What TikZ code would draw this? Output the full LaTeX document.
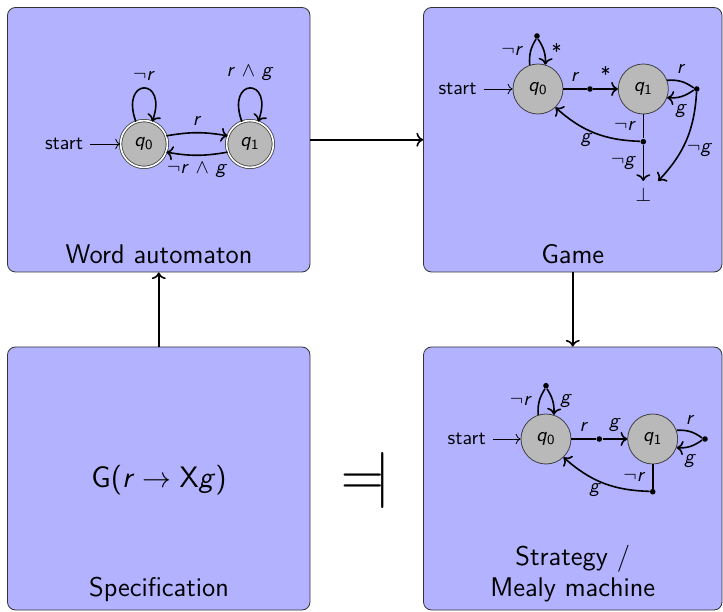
\documentclass[tikz,border=0pt]{standalone}
\usepackage{graphicx}
\usetikzlibrary{arrows.meta}
\renewcommand{\familydefault}{\sfdefault}
\newcommand\vi[1]{\textit{#1}}
\newcommand\qs[1]{\textit{q}\textsubscript{#1}}
\newcommand\nv[1]{$\neg$\textit{#1}}
\tikzset{
  box/.style={draw=black!80, fill=blue!30, rounded corners=4pt, minimum width=151.25pt, minimum height=132.25pt, inner sep=0pt},
  qstate/.style={circle, draw=black!75, fill=gray!55, minimum size=25pt, inner sep=0pt},
  qacc/.style={qstate, double=white, double distance=0.8pt, minimum size=23.4pt},
  bdot/.style={circle, fill=black, inner sep=0pt, minimum size=2.8pt},
  edg/.style={thick, ->},
  pln/.style={thick},
  conn/.style={thick, ->},
  bigloop/.style={loop, out=110, in=70, looseness=7.5},
  ttl/.style={font=\fontsize{13.5}{15.5}\selectfont, anchor=base}
}
\begin{document}
\begin{tikzpicture}[x=0.5pt,y=0.5pt]
\useasboundingbox (0,0) rectangle (723,611);
% boxes
\node[box] (wa) at (158.75,471.25) {};
\node[box, minimum width=149.25pt] (game) at (572.75,471.25) {};
\node[box, minimum height=131.5pt] (spec) at (158.75,132.5) {};
\node[box, minimum width=149.25pt, minimum height=131.5pt] (strat) at (572.75,132.5) {};
% titles
\node[ttl] (tw) at (159,347.7) {Word automaton};
\node[ttl] (tg) at (572.75,347.7) {Game};
\node[ttl] (ts) at (159,14.3) {Specification};
\node[ttl, align=center] (tm) at (572.75,15) {Strategy /\\Mealy machine};
% connectors
\draw[conn] (wa.east) -- (game.west);
\draw[conn] (spec.north) -- (wa.south);
\draw[conn] (game.south) -- (strat.north);
% spec
\node[font=\fontsize{14.8}{17}\selectfont] (formula) at (159,131) {G(\vi{r}\hspace{0.2778em}$\rightarrow$\hspace{0.2778em}X\vi{g})};
\node (models) at (366,131) {\reflectbox{\scalebox{2.8}{$\models$}}};
% word automaton
\node[qacc] (a0) at (144,467) {\qs{0}};
\node[qacc] (a1) at (250,467) {\qs{1}};
\node (as) at (64,467) {start};
\draw[->] (as) -- (a0);
\draw[edg] (a0) to[bigloop] node[above] {\nv{r}} (a0);
\draw[edg] (a1) to[bigloop] node[above] {\vi{r} $\wedge$ \vi{g}} (a1);
\draw[edg] (a0.20) to[out=10,in=170] node[above] {\vi{r}} (a1.160);
\draw[edg] (a1.-160) to[out=190,in=-10] node[below] {\nv{r} $\wedge$ \vi{g}} (a0.-20);
% game
\node[qstate] (g0) at (538,522) {\qs{0}};
\node[qstate] (g1) at (643.3,522) {\qs{1}};
\node (gs) at (457.5,522) {start};
\node[bdot] (gm) at (590,522) {};
\node[bdot] (gt) at (537,575) {};
\node[bdot] (gr) at (696.7,522) {};
\node[bdot] (gb) at (643.3,469.3) {};
\node (bot) at (643.3,416) {$\bot$};
\draw[->] (gs) -- (g0);
\draw[pln] (g0) -- node[above] {\vi{r}} (gm);
\draw[edg] (gm) -- node[above] {*} (g1);
\draw[pln] (g0) to[bend left=18] node[left] {\nv{r}} (gt);
\draw[edg] (gt) to[bend left=18] node[right] {*} (g0);
\draw[pln] (g1) to[bend left=20] node[above] {\vi{r}} (gr);
\draw[edg] (gr) to[bend left=20] node[below] {\vi{g}} (g1);
\draw[edg] (gr) to[bend left=20] node[anchor=west, pos=0.62, inner sep=2.5pt] {\nv{g}} (bot.north east);
\draw[pln] (g1) -- node[left] {\nv{r}} (gb);
\draw[edg] (gb) to[bend left=20] node[pos=0.6, anchor=north, inner sep=1.5pt] {\vi{g}} (g0);
\draw[edg] (gb) -- node[left] {\nv{g}} (bot);
% strategy
\node[qstate] (s0) at (546,172) {\qs{0}};
\node[qstate] (s1) at (652.7,172) {\qs{1}};
\node (ss) at (466.7,172) {start};
\node[bdot] (sm) at (599.3,172) {};
\node[bdot] (stp) at (546,225.3) {};
\node[bdot] (sr) at (705,172) {};
\node[bdot] (sb) at (652.7,119.3) {};
\draw[->] (ss) -- (s0);
\draw[pln] (s0) -- node[above] {\vi{r}} (sm);
\draw[edg] (sm) -- node[above] {\vi{g}} (s1);
\draw[pln] (s0) to[bend left=18] node[left] {\nv{r}} (stp);
\draw[edg] (stp) to[bend left=18] node[right] {\vi{g}} (s0);
\draw[pln] (s1) to[bend left=20] node[above] {\vi{r}} (sr);
\draw[edg] (sr) to[bend left=20] node[below] {\vi{g}} (s1);
\draw[pln] (s1) -- node[left] {\nv{r}} (sb);
\draw[edg] (sb) to[bend left=20] node[pos=0.6, anchor=north, inner sep=1.5pt] {\vi{g}} (s0);
\end{tikzpicture}
\end{document}
